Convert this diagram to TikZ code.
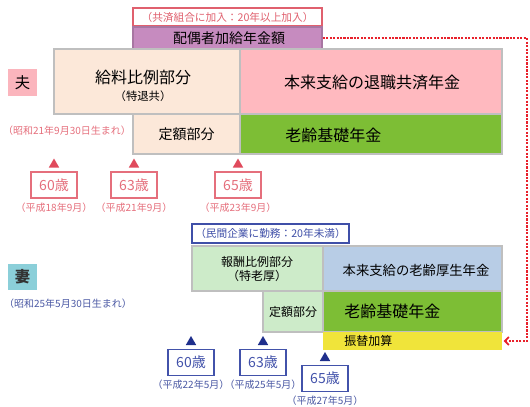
\documentclass[tikz,border=0pt]{standalone}
\usepackage{fontspec}
\setmainfont{Noto Sans CJK JP}
\usetikzlibrary{fit,shapes.geometric,arrows.meta}
\definecolor{framegray}{HTML}{BFBFBF}
\definecolor{notered}{HTML}{E0606E}
\definecolor{noteblue}{HTML}{3F4FA8}
\definecolor{kakyupurple}{HTML}{C68BBF}
\definecolor{beige}{HTML}{FCE8D9}
\definecolor{pinkbox}{HTML}{FFB9BF}
\definecolor{kisogreen}{HTML}{7DBE35}
\definecolor{palegreen}{HTML}{CDEBC9}
\definecolor{paleblue}{HTML}{B8CDE6}
\definecolor{furiyellow}{HTML}{F0E43A}
\definecolor{ottopink}{HTML}{FBB5BD}
\definecolor{tsumablue}{HTML}{8BCFD9}
\definecolor{markred}{HTML}{E04A5C}
\definecolor{agered}{HTML}{E56F7C}
\definecolor{markblue}{HTML}{1F2F8C}
\definecolor{ageblue}{HTML}{4252AA}
\definecolor{dotred}{HTML}{E8212B}
\tikzset{
  blk/.style={draw=framegray, line width=1pt, inner sep=0pt},
  note/.style={line width=1pt, fill=white, inner sep=0pt},
  tri/.style={regular polygon, regular polygon sides=3, inner sep=0pt, minimum size=9pt},
  agebox/.style={draw, fill=white, line width=0.9pt, inner sep=0pt, minimum width=34.5pt,
    minimum height=19.5pt, font=\fontsize{10.5}{12}\selectfont},
  notetxt/.style={inner sep=0pt, font=\fontsize{8}{9}\selectfont},
  datetxt/.style={inner sep=0pt, font=\fontsize{7.5}{9}\selectfont},
  big/.style={inner sep=0pt, font=\fontsize{12}{14}\selectfont},
  mid/.style={inner sep=0pt, font=\fontsize{10.5}{12}\selectfont},
  small/.style={inner sep=0pt, font=\fontsize{9}{11}\selectfont},
}
\begin{document}
\begin{tikzpicture}[x=0.75pt, y=-0.75pt]
  \useasboundingbox (0,0) rectangle (530,406);
  % husband
  \node[note, draw=notered, fit={(133,8) (322,26)}] (note1) {};
  \node[notetxt, text=notered] at (note1.center) (note1txt) {（共済組合に加入：20年以上加入）};
  \node[blk, draw=kakyupurple!85!black, fill=kakyupurple, fit={(133,27) (322,49)}] (kakyu) {};
  \node[mid] at (229,38) (kakyutxt) {配偶者加給年金額};
  \node[blk, fill=beige, fit={(54,49) (240,114)}] (kyuryo) {};
  \node[big, align=center] at (143,86) (kyuryotxt)
    {給料比例部分\\[-1pt]{\fontsize{8.5}{10}\selectfont （特退共）}};
  \node[blk, fill=pinkbox, fit={(240,49) (502,114)}] (taishoku) {};
  \node[big] at (372,82) (taishokutxt) {本来支給の退職共済年金};
  \node[blk, fill=beige, fit={(133,114) (240,154)}] (teigaku1) {};
  \node[mid] at (teigaku1.center) (teigaku1txt) {定額部分};
  \node[blk, fill=kisogreen, fit={(240,114) (502,154)}] (kiso1) {};
  \node[big, anchor=west] at (285,135) (kiso1txt) {老齢基礎年金};
  \node[fill=ottopink, inner sep=0pt, fit={(8,69) (37,96)}] (otto) {};
  \node[inner sep=0pt, font=\fontsize{11.5}{12}\selectfont] at (otto.center) (ottotxt) {夫};
  \node[datetxt, text=agered] at (67,131) (birth1) {（昭和21年9月30日生まれ）};
  \foreach \x/\age/\yr [count=\i] in {54/60/18, 134/63/21, 238/65/23} {
    \node[tri, fill=markred] at (\x,164.5) (hmark\i) {};
    \node[agebox, draw=agered, text=agered] at (\x,185) (hage\i) {\age 歳};
    \node[datetxt, text=agered] at (\x,208) (hdate\i) {（平成\yr 年9月）};
  }
  % wife
  \node[note, draw=noteblue, fit={(192,224) (349,243)}] (note2) {};
  \node[notetxt, text=noteblue] at (note2.center) (note2txt) {（民間企業に勤務：20年未満）};
  \node[blk, fill=palegreen, fit={(192,246) (323,291)}] (hoshu) {};
  \node[small, align=center] at (257,269) (hoshutxt) {報酬比例部分\\[-1pt]（特老厚）};
  \node[blk, fill=paleblue, fit={(323,246) (502,291)}] (kosei) {};
  \node[inner sep=0pt, font=\fontsize{10}{12}\selectfont] at (416,270) (koseitxt)
    {本来支給の老齢厚生年金};
  \node[blk, fill=palegreen, fit={(263,291) (323,332)}] (teigaku2) {};
  \node[small] at (teigaku2.center) (teigaku2txt) {定額部分};
  \node[blk, fill=kisogreen, fit={(323,291) (502,332)}] (kiso2) {};
  \node[big, anchor=west] at (344,311) (kiso2txt) {老齢基礎年金};
  \node[fill=furiyellow, inner sep=0pt, fit={(323,332) (502,350)}] (furikae) {};
  \node[small, anchor=west] at (344,341) (furikaetxt) {振替加算};
  \node[fill=tsumablue, inner sep=0pt, fit={(8,264) (37,290)}] (tsuma) {};
  \node[inner sep=0pt, text=black!80, font=\fontsize{11.5}{12}\selectfont\bfseries]
    at (tsuma.center) (tsumatxt) {妻};
  \node[datetxt, text=ageblue!85!gray] at (68,304) (birth2) {（昭和25年5月30日生まれ）};
  \foreach \x/\y/\age/\yr [count=\i] in {191/342/60/22, 263/342/63/25, 325/358/65/27} {
    \node[tri, fill=markblue] at (\x,\y) (wmark\i) {};
    \node[agebox, draw=ageblue, text=ageblue] at (\x,\y+20.5) (wage\i) {\age 歳};
    \node[datetxt, text=ageblue!85!gray] at (\x,\y+43) (wdate\i) {（平成\yr 年5月）};
  }
  % kakyu -> furikae
  \coordinate (turn) at (527,38);
  \draw[dotred, line width=1.3pt, dash pattern=on 1.6pt off 1pt,
    -{Straight Barb[length=3pt, width=6pt]}]
    (kakyu.east) -- (turn) -- (turn |- furikae.east) -- ([xshift=1pt]furikae.east);
\end{tikzpicture}
\end{document}
